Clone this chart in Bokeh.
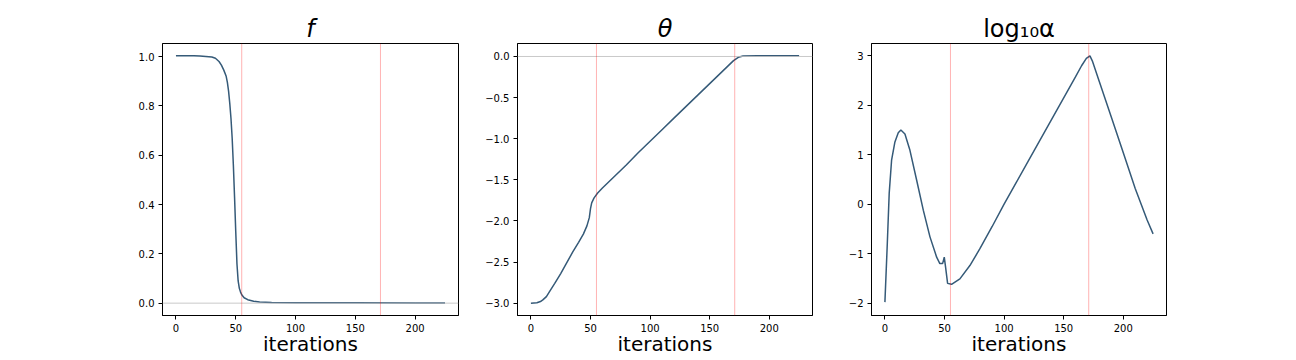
from bokeh.plotting import figure
from bokeh.layouts import row
from bokeh.models import Range1d, Span, FixedTicker
from bokeh.embed import file_html
from bokeh.resources import INLINE

# ---------------- data ----------------
iters_f = [0, 5, 10, 15, 20, 25, 30, 33, 36, 38, 40, 42, 43, 44, 45, 46, 47, 48, 49, 50,
           51, 52, 53, 54, 55, 57, 60, 65, 70, 80, 100, 150, 200, 225]
f_vals = [1.003, 1.003, 1.003, 1.003, 1.002, 1.0, 0.998, 0.993, 0.98, 0.965, 0.945, 0.92,
          0.895, 0.86, 0.81, 0.75, 0.67, 0.56, 0.43, 0.29, 0.16, 0.09, 0.06, 0.045, 0.034,
          0.022, 0.014, 0.008, 0.005, 0.003, 0.002, 0.002, 0.001, 0.001]

iters_theta = [0, 5, 8, 10, 13, 16, 20, 25, 30, 35, 40, 44, 47, 49, 50, 51, 53, 56, 60, 70,
               80, 90, 100, 110, 120, 130, 140, 150, 160, 165, 170, 174, 178, 190, 225]
theta_vals = [-3.0, -2.995, -2.98, -2.96, -2.92, -2.85, -2.76, -2.64, -2.51, -2.38, -2.26,
              -2.16, -2.06, -1.96, -1.85, -1.78, -1.72, -1.66, -1.60, -1.46, -1.32, -1.17,
              -1.03, -0.89, -0.75, -0.61, -0.47, -0.33, -0.19, -0.12, -0.05, -0.01, 0.005,
              0.008, 0.008]

iters_alpha = [0, 2, 3.6, 5.6, 8.4, 11.2, 13.4, 16.8, 21, 26.6, 32.2, 37.8, 43.4, 46.1, 48.4,
               49.8, 50.9, 52.6, 55.9, 62.9, 71.3, 79.7, 90, 100, 110, 120, 130, 140, 150,
               160, 165, 169, 172, 174, 180, 190, 200, 210, 220, 225]
log_alpha_vals = [-1.98, -0.8, 0.22, 0.89, 1.26, 1.445, 1.5, 1.42, 1.09, 0.49, -0.12, -0.66,
                  -1.07, -1.2, -1.2, -1.07, -1.27, -1.6, -1.62, -1.51, -1.24, -0.9, -0.45,
                  0.0, 0.43, 0.86, 1.29, 1.72, 2.15, 2.58, 2.8, 2.95, 3.0, 2.9, 2.47, 1.76,
                  1.04, 0.32, -0.32, -0.6]

vlines = [55, 171]
x_ticks = [0, 50, 100, 150, 200]
f_ticks = [0.0, 0.2, 0.4, 0.6, 0.8, 1.0]
f_tick_labels = ["0.0", "0.2", "0.4", "0.6", "0.8", "1.0"]
theta_ticks = [0.0, -0.5, -1.0, -1.5, -2.0, -2.5, -3.0]
theta_tick_labels = ["0.0", "\u22120.5", "\u22121.0", "\u22121.5", "\u22122.0", "\u22122.5", "\u22123.0"]
alpha_ticks = [3, 2, 1, 0, -1, -2]
alpha_tick_labels = ["3", "2", "1", "0", "\u22121", "\u22122"]

LINE_COLOR = "#355a78"
FONT = "DejaVu Sans"


def make_fig(title, italic, xs, ys, yr, yticks, ylabels, left_border, frame_w, hline):
    p = figure(frame_width=frame_w, frame_height=272, output_backend="svg",
               toolbar_location=None, x_range=Range1d(-11.25, 236.25),
               y_range=Range1d(*yr), min_border_left=left_border, min_border_right=14,
               min_border_top=43, min_border_bottom=40)
    p.title.text = title
    p.title.text_font = FONT
    p.title.text_font_size = "24px"
    p.title.text_font_style = "italic" if italic else "normal"
    p.title.align = "center"
    p.title.standoff = 2
    p.title.text_color = "black"
    p.xgrid.visible = False
    p.ygrid.visible = False
    p.outline_line_color = "black"
    p.outline_line_alpha = 1.0
    p.outline_line_width = 1
    p.background_fill_color = "white"
    p.border_fill_color = "white"

    if hline:
        p.add_layout(Span(location=0, dimension="width", line_color="#bbbbbb",
                          line_width=1, line_alpha=0.8))
    for v in vlines:
        p.add_layout(Span(location=v, dimension="height", line_color="red",
                          line_width=1, line_alpha=0.3))

    p.line(xs, ys, line_color=LINE_COLOR, line_width=1.5)

    p.xaxis.ticker = FixedTicker(ticks=x_ticks)
    p.yaxis.ticker = FixedTicker(ticks=yticks)
    p.yaxis.major_label_overrides = {t: l for t, l in zip(yticks, ylabels)}
    for ax in (p.xaxis[0], p.yaxis[0]):
        ax.major_tick_in = 0
        ax.major_tick_out = 4
        ax.minor_tick_line_color = None
        ax.major_label_text_font = FONT
        ax.major_label_text_font_size = "10px"
        ax.major_label_text_color = "black"
        ax.major_label_standoff = 4
        ax.axis_line_color = "black"
        ax.major_tick_line_color = "black"
    p.xaxis.axis_label = "iterations"
    p.xaxis.axis_label_text_font = FONT
    p.xaxis.axis_label_text_font_size = "20px"
    p.xaxis.axis_label_text_font_style = "normal"
    p.xaxis.axis_label_text_color = "black"
    p.xaxis.axis_label_standoff = -3
    return p


p1 = make_fig("f", True, iters_f, f_vals, (-0.05, 1.053), f_ticks, f_tick_labels, 162, 296, True)
p2 = make_fig("\u03b8", True, iters_theta, theta_vals, (-3.15, 0.158), theta_ticks,
              theta_tick_labels, 45, 295, True)
p3 = make_fig("log\u2081\u2080\u03b1", False, iters_alpha, log_alpha_vals, (-2.25, 3.25),
              alpha_ticks, alpha_tick_labels, 45, 295, False)

layout = row(p1, p2, p3)
open("out.html", "w").write(file_html(layout, INLINE))
